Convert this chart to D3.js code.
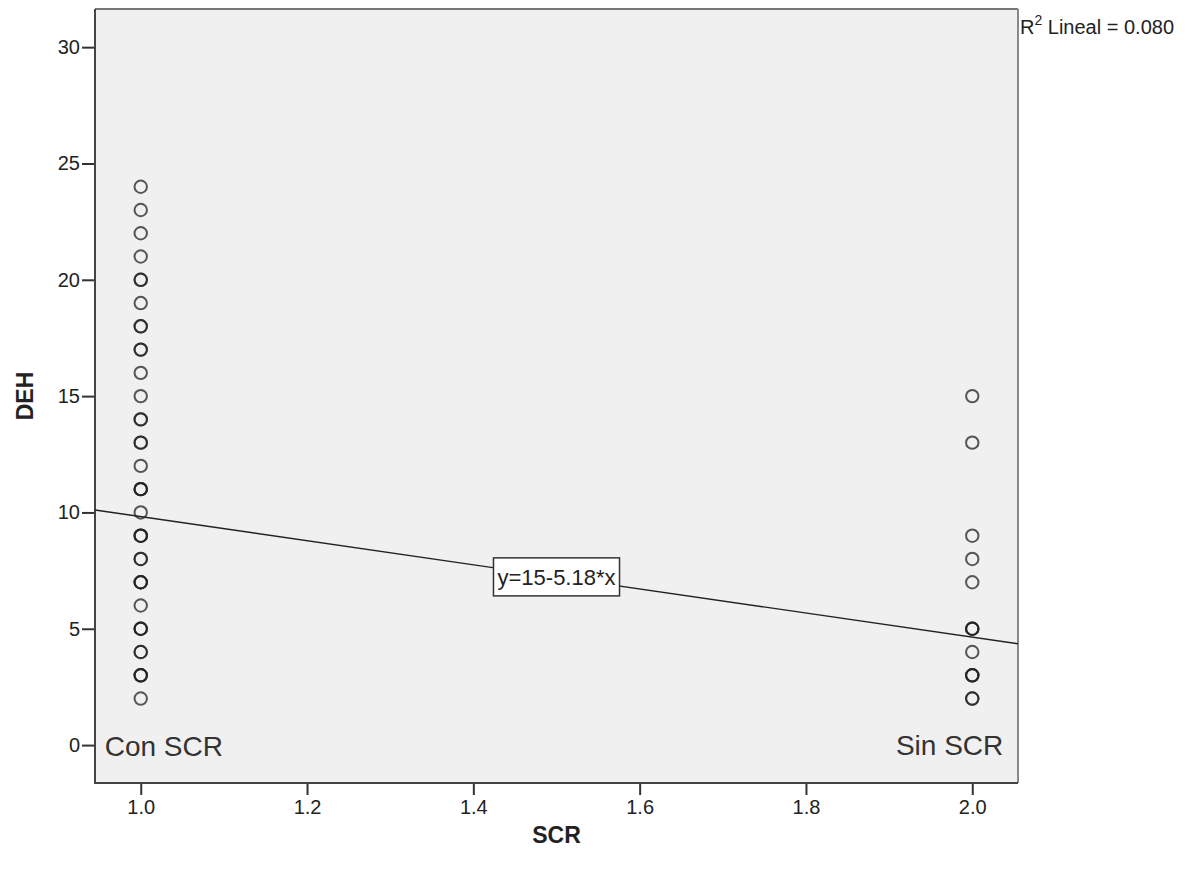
<!DOCTYPE html>
<html>
<head>
<meta charset="utf-8">
<script src="https://cdn.jsdelivr.net/npm/d3@7"></script>
<style>
  body { margin: 0; background: #fff; }
  svg { display: block; font-family: "Liberation Sans", Arial, sans-serif; }
  .axis text { font-size: 20px; fill: #222; }
  .axis line { stroke: #333; stroke-width: 2; }
  .axis path { display: none; }
</style>
</head>
<body>
<div class="chart"></div>
<script>
// DEH by SCR group (1 = Con SCR, 2 = Sin SCR), repeats are overlapping cases
var conValues = [2, 3, 3, 3, 4, 4, 5, 5, 5, 6, 7, 7, 7, 8, 8, 9, 9, 9, 10, 11, 11, 11, 12,
                 13, 13, 14, 14, 15, 16, 17, 17, 18, 18, 19, 20, 20, 21, 22, 23, 24];
var sinValues = [2, 2, 3, 3, 3, 4, 5, 5, 5, 7, 8, 9, 13, 15];
var groups = [1, 2];
var groupLabels = ["Con SCR", "Sin SCR"];
var xTicks = [1.0, 1.2, 1.4, 1.6, 1.8, 2.0];
var yTicks = [0, 5, 10, 15, 20, 25, 30];
var fitIntercept = 15, fitSlope = -5.18, rSquared = 0.080;

var width = 1194, height = 871,
	margin = {top: 9, right: 176, bottom: 88, left: 95};

var svg = d3.select(".chart").append("svg")
	.attr("width", width)
	.attr("height", height);

var x = d3.scaleLinear().domain([0.945, 2.055]).range([margin.left, width - margin.right]),
	y = d3.scaleLinear().domain([-1.63, 31.64]).range([height - margin.bottom, margin.top]);

// plot background
svg.append("rect")
	.attr("x", margin.left)
	.attr("y", margin.top)
	.attr("width", width - margin.left - margin.right)
	.attr("height", height - margin.top - margin.bottom)
	.attr("fill", "#f0f0f0");

svg.append("g")
	.attr("class", "axis axis--y")
	.attr("transform", "translate(" + margin.left + ",0)")
	.call(d3.axisLeft(y).tickValues(yTicks).tickSize(13).tickPadding(2).tickFormat(d3.format("d")));

svg.append("g")
	.attr("class", "axis axis--x")
	.attr("transform", "translate(0," + (height - margin.bottom) + ")")
	.call(d3.axisBottom(x).tickValues(xTicks).tickSize(12).tickPadding(5).tickFormat(d3.format(".1f")));

// frame
var fx0 = margin.left, fx1 = width - margin.right, fy0 = margin.top, fy1 = height - margin.bottom;
svg.append("path")
	.attr("d", "M" + fx0 + "," + fy0 + "H" + fx1)
	.attr("stroke", "#777").attr("stroke-width", 2).attr("fill", "none");
svg.append("path")
	.attr("d", "M" + fx1 + "," + fy0 + "V" + fy1)
	.attr("stroke", "#888").attr("stroke-width", 2).attr("fill", "none");
svg.append("path")
	.attr("d", "M" + fx0 + "," + fy0 + "V" + fy1 + "H" + fx1)
	.attr("stroke", "#444").attr("stroke-width", 2).attr("fill", "none");

// fit line
var xd = x.domain();
svg.append("line")
	.attr("x1", x(xd[0])).attr("y1", y(fitIntercept + fitSlope * xd[0]))
	.attr("x2", x(xd[1])).attr("y2", y(fitIntercept + fitSlope * xd[1]))
	.attr("stroke", "#222")
	.attr("stroke-width", 1.4);

// points
var points = conValues.map(function(v) { return {g: 1, v: v}; })
	.concat(sinValues.map(function(v) { return {g: 2, v: v}; }));

svg.selectAll(".dot")
	.data(points)
	.enter().append("circle")
		.attr("class", "dot")
		.attr("cx", function(d) { return x(d.g); })
		.attr("cy", function(d) { return y(d.v); })
		.attr("r", 6.2)
		.attr("fill", "none")
		.attr("stroke", "#222")
		.attr("stroke-opacity", 0.75)
		.attr("stroke-width", 2);

// equation label at the middle of the line
var xm = (groups[0] + groups[1]) / 2,
	ym = fitIntercept + fitSlope * xm;
var eq = svg.append("g").attr("transform", "translate(" + x(xm) + "," + y(ym) + ")");
var eqBox = eq.append("rect")
	.attr("fill", "#fff")
	.attr("stroke", "#333")
	.attr("stroke-width", 1.5);
var eqText = eq.append("text")
	.attr("text-anchor", "middle")
	.attr("dy", "0.36em")
	.style("font-size", "22px")
	.attr("fill", "#222")
	.text("y=" + fitIntercept + (fitSlope < 0 ? "-" : "+") + Math.abs(fitSlope) + "*x");
var bb = eqText.node().getBBox();
eqBox.attr("x", bb.x - 4).attr("y", -19).attr("width", bb.width + 8).attr("height", 38);

// group labels
svg.append("text")
	.attr("x", x(groups[0]) - 36)
	.attr("y", y(0) + 11)
	.style("font-size", "28px")
	.attr("fill", "#333")
	.text(groupLabels[0]);

svg.append("text")
	.attr("x", x(groups[1]) + 31)
	.attr("y", y(0) + 10)
	.attr("text-anchor", "end")
	.style("font-size", "28px")
	.attr("fill", "#333")
	.text(groupLabels[1]);

// R squared note
var r2 = svg.append("text")
	.attr("x", fx1 + 2)
	.attr("y", 34)
	.style("font-size", "20px")
	.attr("fill", "#222");
r2.append("tspan").text("R");
r2.append("tspan").attr("dy", -9).style("font-size", "14px").text("2");
r2.append("tspan").attr("dy", 9).text(" Lineal = " + rSquared.toFixed(3));

// axis titles
svg.append("text")
	.attr("x", (fx0 + fx1) / 2)
	.attr("y", 843)
	.attr("text-anchor", "middle")
	.style("font-size", "23px")
	.style("font-weight", "bold")
	.attr("fill", "#222")
	.text("SCR");

svg.append("text")
	.attr("transform", "translate(33," + ((fy0 + fy1) / 2) + ") rotate(-90)")
	.attr("text-anchor", "middle")
	.style("font-size", "23px")
	.style("font-weight", "bold")
	.attr("fill", "#222")
	.text("DEH");
</script>
</body>
</html>
